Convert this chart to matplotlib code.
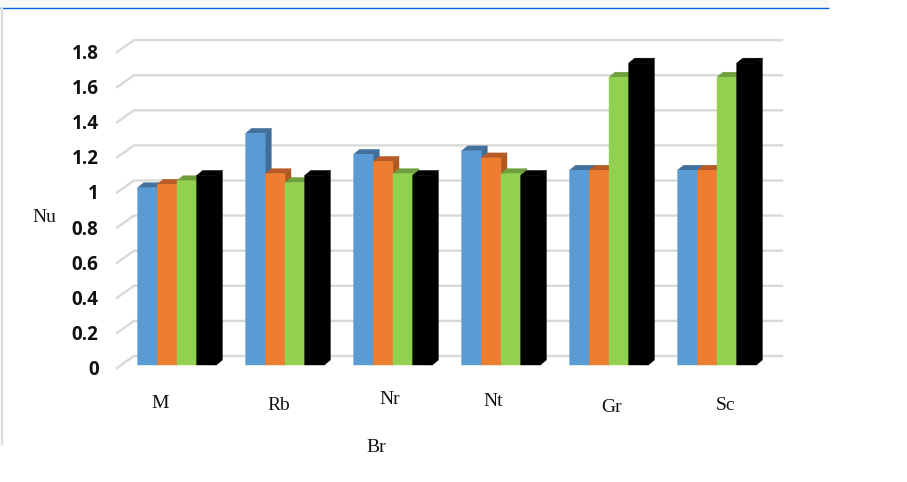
import matplotlib
matplotlib.use("Agg")
import matplotlib.pyplot as plt
from matplotlib.patches import Polygon, Rectangle

categories = ["M", "Rb", "Nr", "Nt", "Gr", "Sc"]
blue = [1.01, 1.32, 1.20, 1.22, 1.11, 1.11]
orange = [1.03, 1.09, 1.16, 1.18, 1.11, 1.11]
green = [1.05, 1.04, 1.09, 1.09, 1.64, 1.64]
black = [1.08, 1.08, 1.08, 1.08, 1.72, 1.72]
y_ticks = [0, 0.2, 0.4, 0.6, 0.8, 1, 1.2, 1.4, 1.6, 1.8]
y_labels = ["0", "0.2", "0.4", "0.6", "0.8", "1", "1.2", "1.4", "1.6", "1.8"]

W, H = 907, 482
PX_X0, PX_GROUP = 177.0, 108.0      # pixel of first group's centre, group pitch
PX_Y0, PX_UNIT = 365.0, 175.5       # pixel of value 0 on the bars' plane, px per unit
px_x = lambda n: n / PX_GROUP
px_y = lambda n: n / PX_UNIT

fig = plt.figure(figsize=(W / 100, H / 100), dpi=100, facecolor="white")
ax = fig.add_axes([0, 0, 1, 1])
ax.set_xlim(-PX_X0 / PX_GROUP, (W - PX_X0) / PX_GROUP)
ax.set_ylim((PX_Y0 - H) / PX_UNIT, PX_Y0 / PX_UNIT)
ax.axis("off")


def X(p):
    return (p - PX_X0) / PX_GROUP


def Y(p):
    return (PX_Y0 - p) / PX_UNIT


# page furniture
ax.add_patch(Rectangle((X(0), Y(8)), X(829) - X(0), Y(0) - Y(8), fc="#f7f8f3", ec="none", zorder=0))
ax.plot([X(0), X(829)], [Y(8), Y(8)], color="#0a5fd6", lw=1.0, zorder=1, solid_capstyle="butt")
ax.plot([X(1.5), X(1.5)], [Y(8), Y(445)], color="#dcdcd8", lw=1.6, zorder=1, solid_capstyle="butt")

# 3-D style gridlines
for v in y_ticks:
    ax.plot([X(117), X(134), X(782)],
            [v + px_y(-3), v + px_y(9), v + px_y(9)],
            color="#d9d9d9", lw=1.7, zorder=1, solid_joinstyle="miter")

# bars
series = [
    (blue, "#5b9bd5", "#41719c", "#3f6f98"),
    (orange, "#ed7d31", "#b95b26", "#ae5a21"),
    (green, "#92d050", "#6f9f3c", "#6b9a3a"),
    (black, "#000000", "#000000", "#000000"),
]
bw = 19.7 / PX_GROUP
dx, dy = px_x(6), px_y(5)
z = 3
for i in range(len(categories)):
    for j, (vals, front, top, side) in enumerate(series):
        x0 = i + (j - 2) * bw
        x1 = x0 + bw
        v = vals[i]
        ax.add_patch(Polygon([(x0, v), (x0 + dx, v + dy), (x1 + dx, v + dy), (x1, v)],
                             fc=top, ec=top, lw=0.3, zorder=z))
        ax.add_patch(Polygon([(x1 - px_x(1), 0), (x1, 0), (x1 + dx, dy), (x1 + dx, v + dy), (x1, v), (x1 - px_x(1), v)],
                             fc=side, ec=side, lw=0.3, zorder=z))
        bars = ax.bar(x0, v, width=bw, align="edge", color=front, edgecolor=front, linewidth=0.3, zorder=z + 0.5)
        for b in bars:
            b.set_snap(False)
        z += 1

# tick labels
for v, lab in zip(y_ticks, y_labels):
    ax.text(X(98.5), v + px_y(-5), lab, ha="right", va="center", family="Open Sans",
            fontweight="bold", fontsize=13.5, color="#111111", zorder=50)

# category labels, each hand-placed in the source image
cat_px = [(160, 403), (279, 405), (390, 399), (493, 402), (612, 407), (726, 406)]
for lab, (px, py) in zip(categories, cat_px):
    ax.text(X(px), Y(py), lab, ha="center", va="center", family="Liberation Serif",
            fontsize=14, color="#111111", zorder=50)

ax.text(X(44), Y(218), "Nu", ha="center", va="center", family="Liberation Serif",
        fontsize=14, color="#111111", zorder=50)
ax.text(X(376), Y(448), "Br", ha="center", va="center", family="Liberation Serif",
        fontsize=14, color="#111111", zorder=50)

fig.savefig("out.png", dpi=100)
